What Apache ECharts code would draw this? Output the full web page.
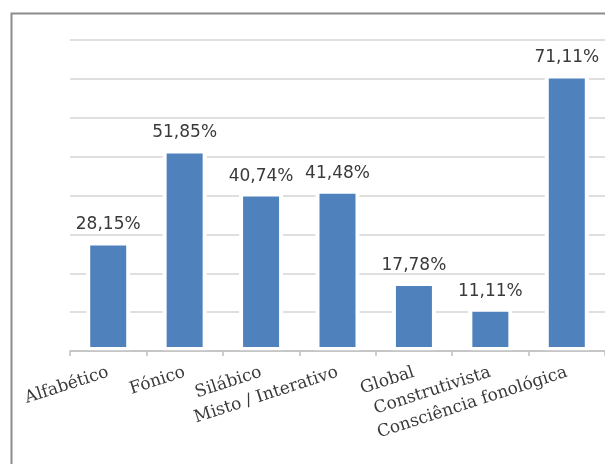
<!DOCTYPE html>
<html>
<head>
    <meta http-equiv="Content-Type" content="text/html; charset=utf-8" />
    <title>Métodos de alfabetização</title>
    <script src="https://cdn.jsdelivr.net/npm/echarts@6/dist/echarts.min.js"></script>
</head>
<body style="margin:0;padding:0;background:#ffffff;">
    <div id="main" style="width:605px;height:464px;"></div>
    <script type="text/javascript">
        // dados do gráfico
        var categorias = ['Alfabético', 'Fónico', 'Silábico', 'Misto / Interativo', 'Global', 'Construtivista', 'Consciência fonológica'];
        var valores = [28.15, 51.85, 40.74, 41.48, 17.78, 11.11, 71.11];
        var eixoY = [0, 80, 10];   // min, max, intervalo

        var chart = echarts.init(document.getElementById('main'));

        var option = {
            backgroundColor: '#ffffff',
            animation: false,
            graphic: [{
                type: 'rect',
                left: 9,
                top: 11,
                shape: { width: 700, height: 600 },
                style: { fill: 'none', stroke: '#8c8c8c', lineWidth: 2 }
            }],
            grid: {
                left: 70,
                top: 40,
                width: 541,
                bottom: 113
            },
            xAxis: {
                type: 'category',
                data: categorias,
                z: 3,
                axisLine: { lineStyle: { color: '#bfbfbf', width: 1.5 } },
                axisTick: { show: true, length: 5, lineStyle: { color: '#bfbfbf', width: 1.5 } },
                axisLabel: {
                    interval: 0,
                    rotate: 18,
                    margin: 21,
                    color: '#3a3a3a',
                    fontFamily: 'DejaVu Serif',
                    fontSize: 17
                }
            },
            yAxis: {
                type: 'value',
                min: eixoY[0],
                max: eixoY[1],
                interval: eixoY[2],
                axisLine: { show: false },
                axisTick: { show: false },
                axisLabel: { show: false },
                splitLine: { lineStyle: { color: '#d4d4d4', width: 1.5 } }
            },
            series: [{
                type: 'bar',
                data: valores,
                barWidth: 44,
                itemStyle: {
                    color: '#4f81bd',
                    borderColor: '#ffffff',
                    borderWidth: 4
                },
                label: {
                    show: true,
                    position: 'top',
                    distance: 8,
                    color: '#3a3a3a',
                    fontFamily: 'DejaVu Sans',
                    fontSize: 17,
                    formatter: function (p) {
                        return p.value.toFixed(2).replace('.', ',') + '%';
                    }
                }
            }]
        };
        chart.setOption(option);
    </script>
</body>
</html>
